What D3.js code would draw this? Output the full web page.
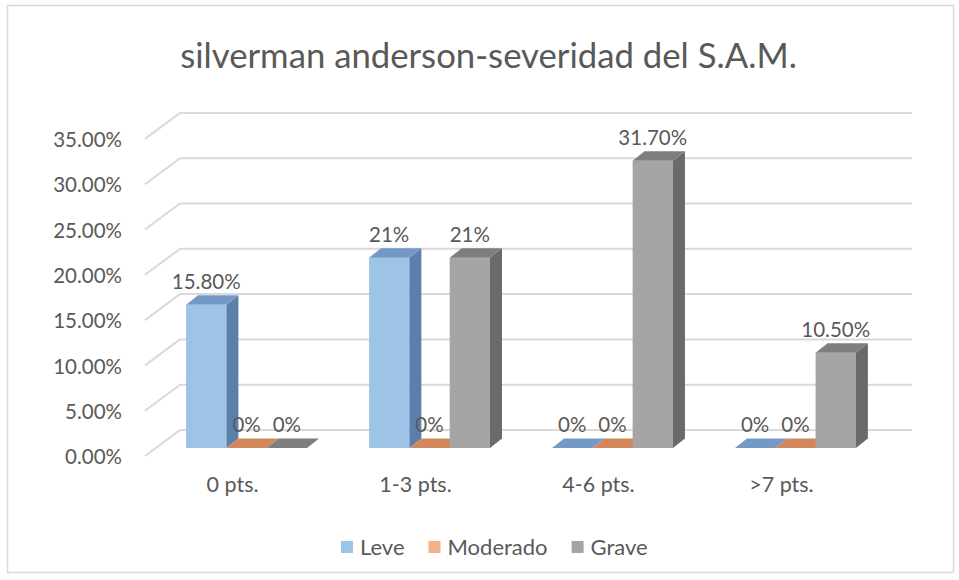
<!DOCTYPE html>
<html><head><meta charset="utf-8">
<script src="https://cdn.jsdelivr.net/npm/d3@7"></script>
<style>body{margin:0;background:#fff}svg{display:block}text{font-family:Lato,"Open Sans",sans-serif;fill:#595959}</style>
</head><body><svg id="c" width="959" height="580"></svg>
<script>
const title = "silverman anderson-severidad del S.A.M.";
const categories = ["0 pts.", "1-3 pts.", "4-6 pts.", ">7 pts."];
const seriesNames = ["Leve", "Moderado", "Grave"];
const leve = [15.8, 21, 0, 0];
const moderado = [0, 0, 0, 0];
const grave = [0, 21, 31.7, 10.5];
const yTicks = [0, 5, 10, 15, 20, 25, 30, 35];

const seriesValues = [leve, moderado, grave];
const colors = {
  Leve: {front: "#9dc3e6", side: "#5b7fab", top: "#7499c6"},
  Moderado: {front: "#f4b183", side: "#c07a50", top: "#d2875c"},
  Grave: {front: "#a5a5a5", side: "#6a6a6a", top: "#7e7e7e"}
};

const svg = d3.select("#c");
svg.append("rect").attr("x", 7.5).attr("y", 5.5).attr("width", 946).attr("height", 567)
  .attr("fill", "#fff").attr("stroke", "#d9d9d9").attr("stroke-width", 1.5);

// projection constants
const base = 448;           // bar plane baseline
const backDX = 25, backDY = -18;  // bar plane -> back wall
const frontDX = -10, frontDY = 8; // bar plane -> front edge
const dX = 12, dY = -9.5;   // bar depth

const y = d3.scaleLinear().domain([0, 35]).range([base, base - 35 * 9.06]);
const x = d3.scaleBand().domain(categories).range([155, 887]).paddingInner(0.339).paddingOuter(0.17);
const xs = d3.scaleBand().domain(seriesNames).range([0, x.bandwidth()]);

// back wall gridlines & side wall diagonals
const grid = svg.append("g");
yTicks.forEach(t => {
  const yb = y(t) + backDY;
  grid.append("line").attr("x1", 155 + backDX).attr("x2", 887 + backDX).attr("y1", yb).attr("y2", yb)
    .attr("stroke", "#d9d9d9").attr("stroke-width", 2);
  grid.append("line").attr("x1", 155 + backDX).attr("y1", yb).attr("x2", 155 + frontDX - 0).attr("y2", y(t) + frontDY)
    .attr("stroke", "#d9d9d9").attr("stroke-width", 2);
});

// y labels
svg.append("g").selectAll("text").data(yTicks).join("text")
  .attr("x", 122).attr("y", d => y(d) + frontDY + 1).attr("dy", "0.35em")
  .attr("text-anchor", "end").style("font-size", "20.5px")
  .text(d => d.toFixed(2) + "%");

// bars
const fmt = v => Number.isInteger(v) ? v + "%" : v.toFixed(2) + "%";
const bars = svg.append("g");
categories.forEach((c, i) => {
  seriesNames.forEach((s, j) => {
    const v = seriesValues[j][i];
    const x0 = x(c) + xs(s), w = xs.bandwidth(), yt = y(v), col = colors[s];
    if (v > 0) {
      bars.append("rect").attr("x", x0).attr("y", yt).attr("width", w).attr("height", base - yt).attr("fill", col.front);
      bars.append("path").attr("d", `M${x0 + w},${yt}L${x0 + w + dX},${yt + dY}L${x0 + w + dX},${base + dY}L${x0 + w},${base}Z`).attr("fill", col.side);
    }
    bars.append("path").attr("d", `M${x0},${yt}L${x0 + dX},${yt + dY}L${x0 + w + dX},${yt + dY}L${x0 + w},${yt}Z`).attr("fill", col.top);
  });
});
// data labels
const labels = svg.append("g");
categories.forEach((c, i) => {
  seriesNames.forEach((s, j) => {
    const v = seriesValues[j][i];
    const cx = x(c) + xs(s) + xs.bandwidth() / 2;
    labels.append("text").attr("x", cx).attr("y", y(v) - 16).attr("text-anchor", "middle")
      .style("font-size", "20.5px").text(fmt(v));
  });
});

// category labels
svg.append("g").selectAll("text").data(categories).join("text")
  .attr("x", d => x(d) + x.bandwidth() / 2 - 14).attr("y", 492).attr("text-anchor", "middle")
  .style("font-size", "21.5px").text(d => d);

// title
const tt = svg.append("text").attr("x", 488.5).attr("y", 68).attr("text-anchor", "middle")
  .style("font-size", "30px").text(title);
const tw = tt.node().getComputedTextLength();
tt.style("font-size", (30 * 617 / tw) + "px");

// legend
const leg = svg.append("g");
let lx = 341;
seriesNames.forEach(s => {
  leg.append("rect").attr("x", lx).attr("y", 541).attr("width", 12).attr("height", 12).attr("fill", colors[s].front);
  const t = leg.append("text").attr("x", lx + 19).attr("y", 547).attr("dy", "0.35em").style("font-size", "22px").text(s);
  lx += 19 + t.node().getComputedTextLength() + 24;
});
</script></body></html>
